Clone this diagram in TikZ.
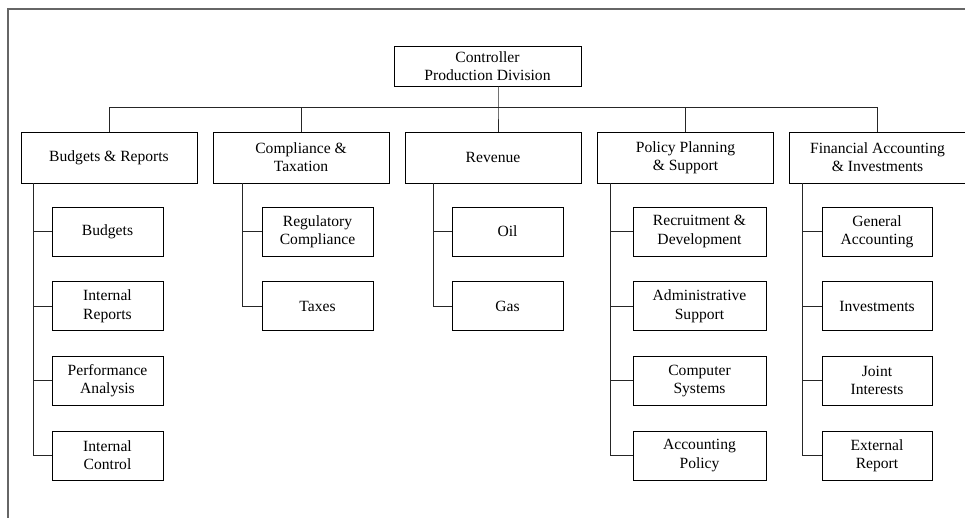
\documentclass[tikz,border=0pt]{standalone}
\usepackage{fontspec}
\setmainfont{Liberation Serif}
\begin{document}
\begin{tikzpicture}[x=1pt,y=-1pt,
  unit/.style={draw=black,line width=0.9pt,fill=white,rectangle,align=center,
    inner sep=0pt,font=\fontsize{15.6}{18.2}\selectfont},
  dept/.style={unit,minimum width=176pt,minimum height=51pt},
  sect/.style={unit,minimum width=111pt,minimum height=49pt},
  link/.style={draw=black!85,line width=0.9pt},
  frame/.style={draw=black!60,line width=1.3pt}]
\useasboundingbox (0,0) rectangle (965,518);

% outer frame (left and top edges)
\draw[frame] (8,518) -- (8,9) -- (965,9);

% head of division
\node[unit,minimum width=187pt,minimum height=40pt] (ctl) at (487.5,66)
  {Controller\\Production Division};

% departments
\node[dept] (br) at (109,157.5) {Budgets \& Reports};
\node[dept] (cp) at (301,157.5) {Compliance \&\\Taxation};
\node[dept] (rv) at (493,157.5) {Revenue};
\node[dept] (pp) at (685.5,157.5) {Policy Planning\\\& Support};
\node[dept] (fa) at (877.5,157.5) {Financial Accounting\\\& Investments};

% sections: Budgets & Reports
\node[sect] (br1) at (107.5,231.5) {Budgets};
\node[sect] (br2) at (107.5,306.2) {Internal\\Reports};
\node[sect] (br3) at (107.5,380.8) {Performance\\Analysis};
\node[sect] (br4) at (107.5,455.5) {Internal\\Control};

% sections: Compliance & Taxation
\node[sect] (cp1) at (317.5,231.5) {Regulatory\\Compliance};
\node[sect] (cp2) at (317.5,306.2) {Taxes};

% sections: Revenue
\node[sect] (rv1) at (507.5,231.5) {Oil};
\node[sect] (rv2) at (507.5,306.2) {Gas};

% sections: Policy Planning & Support
\node[sect,minimum width=133pt] (pp1) at (699.5,231.5) {Recruitment \&\\Development};
\node[sect,minimum width=133pt] (pp2) at (699.5,306.2) {Administrative\\Support};
\node[sect,minimum width=133pt] (pp3) at (699.5,380.8) {Computer\\Systems};
\node[sect,minimum width=133pt] (pp4) at (699.5,455.5) {Accounting\\Policy};

% sections: Financial Accounting & Investments
\node[sect,minimum width=110pt] (fa1) at (877,231.5) {General\\Accounting};
\node[sect,minimum width=110pt] (fa2) at (877,306.2) {Investments};
\node[sect,minimum width=110pt] (fa3) at (877,380.8) {Joint\\Interests};
\node[sect,minimum width=110pt] (fa4) at (877,455.5) {External\\Report};

% top-level bus
\coordinate (trunk) at (498,107);
\draw[link] (trunk |- ctl.south) -- (trunk) -- (trunk |- rv.north);
\draw[link] (br.north) |- (trunk -| fa.north) -- (fa.north);
\draw[link] (cp.north) -- (trunk -| cp.north);
\draw[link] (pp.north) -- (trunk -| pp.north);

% section spines
\coordinate (brs) at (33,0);
\coordinate (cps) at (242,0);
\coordinate (rvs) at (433,0);
\coordinate (pps) at (610,0);
\coordinate (fas) at (802,0);

\draw[link] (brs |- br.south) |- (br4.west);
\foreach \n in {br1,br2,br3} \draw[link] (\n.west) -- (brs |- \n.west);

\draw[link] (cps |- cp.south) |- (cp2.west);
\draw[link] (cp1.west) -- (cps |- cp1.west);

\draw[link] (rvs |- rv.south) |- (rv2.west);
\draw[link] (rv1.west) -- (rvs |- rv1.west);

\draw[link] (pps |- pp.south) |- (pp4.west);
\foreach \n in {pp1,pp2,pp3} \draw[link] (\n.west) -- (pps |- \n.west);

\draw[link] (fas |- fa.south) |- (fa4.west);
\foreach \n in {fa1,fa2,fa3} \draw[link] (\n.west) -- (fas |- \n.west);
\end{tikzpicture}
\end{document}
